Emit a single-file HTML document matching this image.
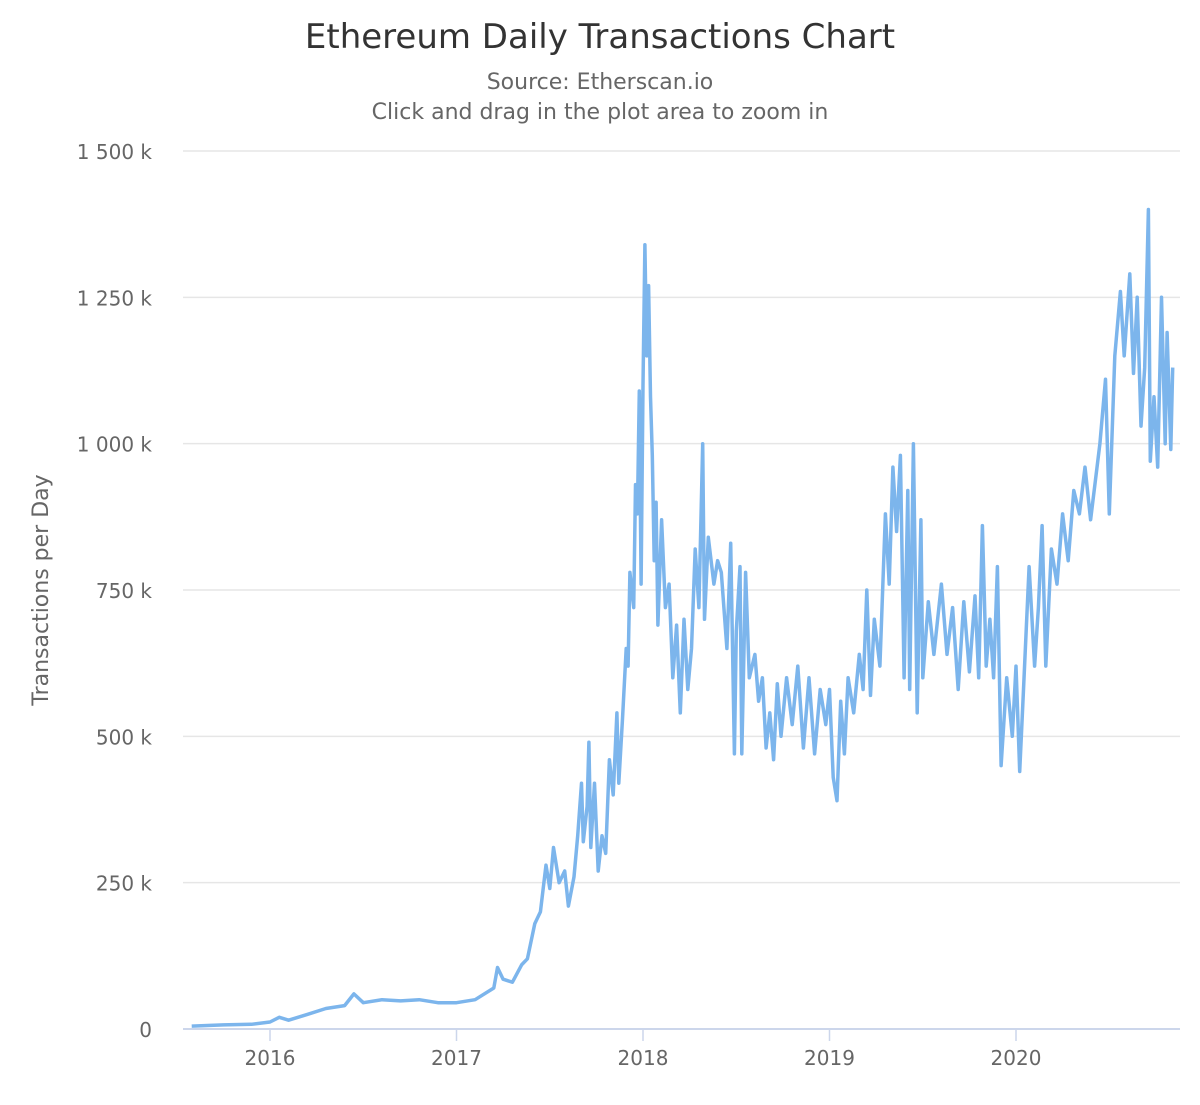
<!DOCTYPE html>
<html><head><meta charset="utf-8"><style>
body{margin:0;background:#fff;font-family:"Liberation Sans",sans-serif}
svg text{font-family:"DejaVu Sans","Liberation Sans",sans-serif}
</style></head><body>
<svg id="chart" width="1200" height="1100" xmlns="http://www.w3.org/2000/svg">
<text x="600" y="48" text-anchor="middle" font-size="34" fill="#333">Ethereum Daily Transactions Chart</text>
<text x="600" y="89" text-anchor="middle" font-size="22" fill="#666">Source: Etherscan.io</text>
<text x="600" y="119" text-anchor="middle" font-size="22" fill="#666">Click and drag in the plot area to zoom in</text>
<text transform="translate(48,590) rotate(-90)" text-anchor="middle" font-size="22" fill="#666">Transactions per Day</text>
<g id="grid"></g><g id="xaxis"></g>
<path id="series" fill="none" stroke="#7cb5ec" stroke-width="3.5" stroke-linejoin="round"/>
</svg>
<script>
const yTicks=[0,250,500,750,1000,1250,1500];
const yTickLabels=["0","250 k","500 k","750 k","1 000 k","1 250 k","1 500 k"];
const xTicks=[2016,2017,2018,2019,2020];
const dates=[2015.58,2015.75,2015.9,2016.0,2016.05,2016.1,2016.2,2016.3,2016.4,2016.45,2016.5,2016.6,2016.7,2016.8,2016.9,2017.0,2017.1,2017.2,2017.22,2017.25,2017.3,2017.35,2017.38,2017.42,2017.45,2017.48,2017.5,2017.52,2017.55,2017.58,2017.6,2017.63,2017.65,2017.67,2017.68,2017.7,2017.71,2017.72,2017.74,2017.76,2017.78,2017.8,2017.82,2017.84,2017.86,2017.87,2017.89,2017.91,2017.92,2017.93,2017.95,2017.96,2017.97,2017.98,2017.99,2018.0,2018.01,2018.02,2018.03,2018.04,2018.05,2018.06,2018.07,2018.08,2018.1,2018.12,2018.14,2018.16,2018.18,2018.2,2018.22,2018.24,2018.26,2018.28,2018.3,2018.32,2018.33,2018.35,2018.38,2018.4,2018.42,2018.45,2018.47,2018.49,2018.5,2018.52,2018.53,2018.55,2018.57,2018.6,2018.62,2018.64,2018.66,2018.68,2018.7,2018.72,2018.74,2018.77,2018.8,2018.83,2018.86,2018.89,2018.92,2018.95,2018.98,2019.0,2019.02,2019.04,2019.06,2019.08,2019.1,2019.13,2019.16,2019.18,2019.2,2019.22,2019.24,2019.27,2019.3,2019.32,2019.34,2019.36,2019.38,2019.4,2019.42,2019.43,2019.45,2019.47,2019.49,2019.5,2019.53,2019.56,2019.6,2019.63,2019.66,2019.69,2019.72,2019.75,2019.78,2019.8,2019.82,2019.84,2019.86,2019.88,2019.9,2019.92,2019.95,2019.98,2020.0,2020.02,2020.04,2020.07,2020.1,2020.12,2020.14,2020.16,2020.19,2020.22,2020.25,2020.28,2020.31,2020.34,2020.37,2020.40,2020.45,2020.48,2020.5,2020.53,2020.56,2020.58,2020.61,2020.63,2020.65,2020.67,2020.69,2020.71,2020.72,2020.74,2020.76,2020.78,2020.8,2020.81,2020.83,2020.84];
const values=[5,7,8,12,20,15,25,35,40,60,45,50,48,50,45,45,50,70,105,85,80,110,120,180,200,280,240,310,250,270,210,260,330,420,320,380,490,310,420,270,330,300,460,400,540,420,530,650,620,780,720,930,880,1090,760,1100,1340,1150,1270,1080,980,800,900,690,870,720,760,600,690,540,700,580,650,820,720,1000,700,840,760,800,780,650,830,470,680,790,470,780,600,640,560,600,480,540,460,590,500,600,520,620,480,600,470,580,520,580,430,390,560,470,600,540,640,580,750,570,700,620,880,760,960,850,980,600,920,580,1000,540,870,600,730,640,760,640,720,580,730,610,740,600,860,620,700,600,790,450,600,500,620,440,580,790,620,720,860,620,820,760,880,800,920,880,960,870,1000,1110,880,1150,1260,1150,1290,1120,1250,1030,1130,1400,970,1080,960,1250,1000,1190,990,1130];
const L=183,R=1180,T=151,B=1029;
const y=v=>B-(v/1500)*(B-T);
const x=d=>270+(d-2016)*186.5;
const NS="http://www.w3.org/2000/svg";
const g=document.getElementById('grid'),xa=document.getElementById('xaxis');
yTicks.forEach((t,i)=>{
 const ln=document.createElementNS(NS,'line');
 
 
 ln.setAttribute('x1',L);ln.setAttribute('x2',R);ln.setAttribute('y1',y(t));ln.setAttribute('y2',y(t));
 ln.setAttribute('stroke',i===0?'#ccd6eb':'#e6e6e6');ln.setAttribute('stroke-width',i===0?2:1.5);
 g.appendChild(ln);
 const tx=document.createElementNS(NS,'text');
 
 
 tx.setAttribute('x',152);tx.setAttribute('y',y(t)+8);tx.setAttribute('text-anchor','end');
 tx.setAttribute('font-size','20');tx.setAttribute('fill','#666');tx.textContent=yTickLabels[i];
 g.appendChild(tx);
});
xTicks.forEach(t=>{
 const ln=document.createElementNS(NS,'line');
 
 
 ln.setAttribute('x1',x(t));ln.setAttribute('x2',x(t));ln.setAttribute('y1',B);ln.setAttribute('y2',B+12);
 ln.setAttribute('stroke','#ccd6eb');ln.setAttribute('stroke-width',1.5);
 xa.appendChild(ln);
 const tx=document.createElementNS(NS,'text');
 
 
 tx.setAttribute('x',x(t));tx.setAttribute('y',B+36);tx.setAttribute('text-anchor','middle');
 tx.setAttribute('font-size','20');tx.setAttribute('fill','#666');tx.textContent=t;
 xa.appendChild(tx);
});
document.getElementById('series').setAttribute('d',dates.map((d,i)=>(i?'L':'M')+x(d).toFixed(1)+','+y(values[i]).toFixed(1)).join(''));
</script>
</body></html>
